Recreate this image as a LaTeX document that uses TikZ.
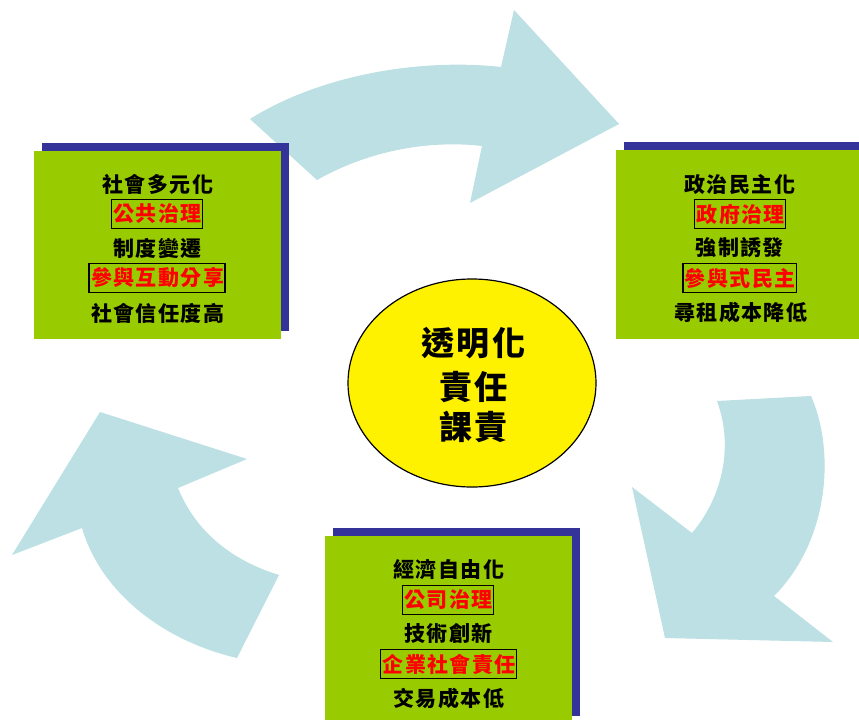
\documentclass[tikz,border=0pt]{standalone}
\usepackage{fontspec}
\usetikzlibrary{shapes.geometric}
\newfontfamily\cjk[LetterSpace=7]{Noto Sans CJK TC}
\newfontfamily\cjkbig[LetterSpace=9]{Noto Sans CJK TC}
\definecolor{arrowc}{RGB}{188,224,228}
\definecolor{boxg}{RGB}{153,204,0}
\definecolor{shadowb}{RGB}{51,51,153}
\begin{document}
\begin{tikzpicture}[x=1pt,y=-1pt,
  gbox/.style={fill=boxg, draw=none, inner sep=0pt},
  sbox/.style={fill=shadowb, draw=none},
  txt/.style={font=\cjk\bfseries\fontsize{21}{23}\selectfont, text=black, inner sep=0pt},
  redbox/.style={txt, text=red, draw=black, line width=1.4pt, inner xsep=2pt, inner ysep=0pt, minimum height=29pt},
  bigtxt/.style={font=\cjkbig\bfseries\fontsize{33}{36}\selectfont, text=black, inner sep=0pt},
  bigarrow/.style={fill=arrowc, draw=none}]
\useasboundingbox (0,0) rectangle (859,720);
\fill[white] (0,0) rectangle (859,720);
\newcommand\tr{\kern-1.5pt}
% curved arrows
\fill[bigarrow] (250,119) .. controls (320,75) and (420,58) .. (501,67)
  -- (514,10) -- (619,124) -- (470,203) -- (482,146)
  .. controls (430,140) and (370,150) .. (317,180) -- cycle;
\fill[bigarrow] (717,401) -- (811,396) .. controls (835,450) and (830,540) .. (774,596)
  -- (833,642) -- (665,638) -- (632,487) -- (692,533)
  .. controls (720,500) and (735,450) .. (717,401) -- cycle;
\fill[bigarrow] (237,658) -- (279,575) .. controls (230,560) and (195,530) .. (178,488)
  -- (247,459) -- (100,412) -- (12,555) -- (82,528)
  .. controls (100,590) and (160,640) .. (237,658) -- cycle;
% top-left box
\fill[sbox] (42,143) rectangle (289,331);
\node[gbox, minimum width=247pt, minimum height=188pt] (tl) at (157.5,245) {};
\node[txt] (tl1) at (157,184) {社會多元化\tr};
\node[redbox] (tl2) at (157,214) {公共治理\tr};
\node[txt] (tl3) at (157,248) {制度變遷\tr};
\node[redbox] (tl4) at (157,278) {參與互動分享\tr};
\node[txt] (tl5) at (157,313) {社會信任度高\tr};
% top-right box
\fill[sbox] (624,142) rectangle (859,331);
\node[gbox, minimum width=243pt, minimum height=189pt] (tr) at (737.5,244.5) {};
\node[txt] (tr1) at (739,185) {政治民主化\tr};
\node[redbox] (tr2) at (740,214) {政府治理\tr};
\node[txt] (tr3) at (739,248) {強制誘發\tr};
\node[redbox] (tr4) at (739.5,278) {參與式民主\tr};
\node[txt] (tr5) at (740,312) {尋租成本降低\tr};
% bottom box
\fill[sbox] (333,528) rectangle (580,716);
\node[gbox, minimum width=247pt, minimum height=184pt] (bt) at (448.5,628) {};
\node[txt] (bt1) at (448,570) {經濟自由化\tr};
\node[redbox] (bt2) at (448,600) {公司治理\tr};
\node[txt] (bt3) at (448,633) {技術創新\tr};
\node[redbox] (bt4) at (448.5,664) {企業社會責任\tr};
\node[txt] (bt5) at (448,698) {交易成本低\tr};
% centre ellipse
\node[draw=black, line width=1.2pt, fill=yellow, ellipse, minimum width=248pt, minimum height=208pt, inner sep=0pt] (c) at (472,383) {};
\node[bigtxt] (c1) at (472,343) {透明化\kern-3pt};
\node[bigtxt] (c2) at (472,387) {責任\kern-3pt};
\node[bigtxt] (c3) at (472,427) {課責\kern-3pt};
\end{tikzpicture}
\end{document}
